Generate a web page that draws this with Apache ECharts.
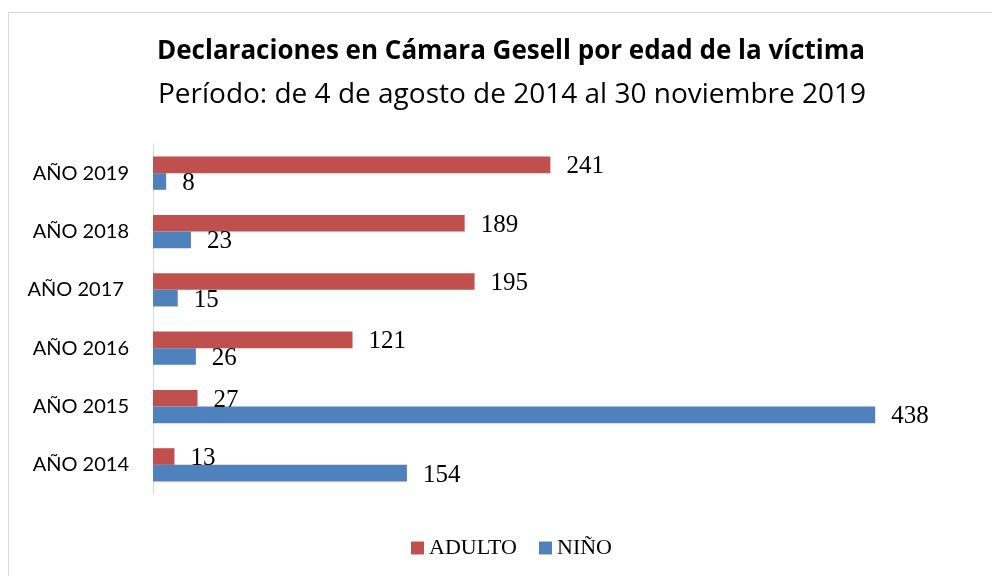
<!DOCTYPE html>
<html>
<head>
<meta charset="utf-8">
<script src="https://cdn.jsdelivr.net/npm/echarts@6/dist/echarts.min.js"></script>
<style>
  html, body { margin: 0; padding: 0; background: #fff; }
  #chart { width: 992px; height: 576px; }
</style>
</head>
<body>
<div id="chart"></div>
<script>
// datos
const categories = ['AÑO 2014', 'AÑO 2015', 'AÑO 2016', 'AÑO 2017 ', 'AÑO 2018', 'AÑO 2019']
const adulto = [13, 27, 121, 195, 189, 241]
const nino = [154, 438, 26, 15, 23, 8]

const chart = echarts.init(document.getElementById('chart'))

const labelStyle = {
  show: true,
  position: 'right',
  distance: 16,
  offset: [0, 2],
  fontFamily: 'Liberation Serif',
  fontSize: 25,
  color: '#000',
}

chart.setOption({
  animation: false,
  title: [
    {
      text: 'Declaraciones en Cámara Gesell por edad de la víctima',
      left: 506,
      top: 34,
      textAlign: 'center',
      textStyle: { fontFamily: 'Open Sans', fontWeight: 'bold', fontSize: 26, color: '#000' },
    },
    {
      text: 'Período: de 4 de agosto de 2014 al 30 noviembre 2019',
      left: 507,
      top: 76,
      textAlign: 'center',
      textStyle: { fontFamily: 'Open Sans', fontWeight: 'normal', fontSize: 28, color: '#000' },
    },
  ],
  graphic: [
    {
      type: 'polyline',
      shape: { points: [[8.5, 600], [8.5, 12.5], [1000, 12.5]] },
      style: { stroke: '#d9d9d9', lineWidth: 1, fill: null },
    },
  ],
  legend: {
    bottom: 12,
    left: 406,
    icon: 'rect',
    itemWidth: 13,
    itemHeight: 13,
    itemGap: 22,
    textStyle: { fontFamily: 'Liberation Serif', fontSize: 22, color: '#000' },
    data: ['ADULTO', 'NIÑO'],
  },
  grid: { left: 153, right: 97, top: 144, bottom: 82 },
  xAxis: {
    type: 'value',
    min: 0,
    max: 450,
    show: false,
  },
  yAxis: {
    type: 'category',
    data: categories,
    axisLine: { lineStyle: { color: '#d9d9d9' } },
    axisTick: { show: false },
    axisLabel: { margin: 24, fontFamily: 'Lato', fontSize: 20, color: '#000' },
  },
  series: [
    {
      name: 'ADULTO',
      type: 'bar',
      data: adulto,
      barGap: '0%',
      barCategoryGap: '43%',
      itemStyle: { color: '#C0504D' },
      label: labelStyle,
    },
    {
      name: 'NIÑO',
      type: 'bar',
      data: nino,
      barGap: '0%',
      barCategoryGap: '43%',
      itemStyle: { color: '#4F81BD' },
      label: labelStyle,
    },
  ],
})
</script>
</body>
</html>
